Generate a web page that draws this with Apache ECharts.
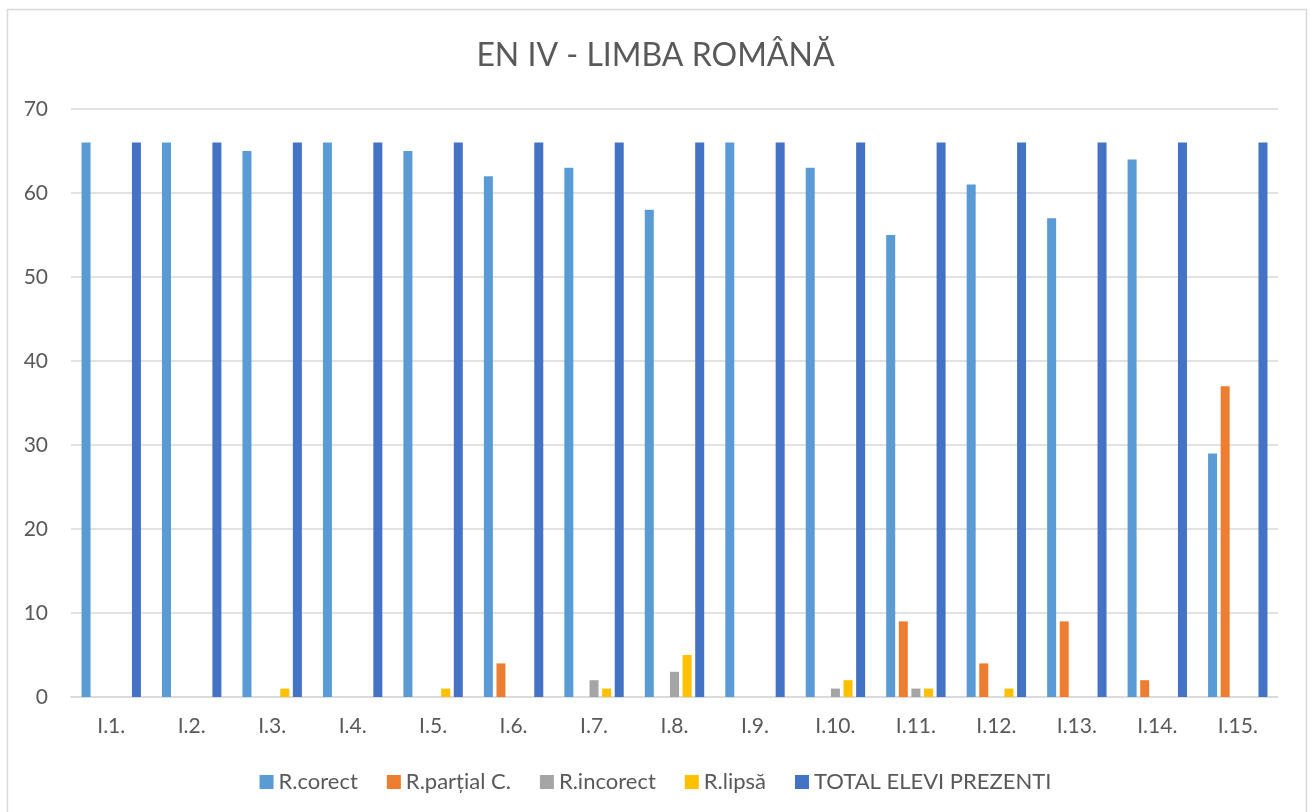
<!DOCTYPE html>
<html>
<head>
<meta charset="utf-8">
<title>EN IV - LIMBA ROMÂNĂ</title>
<script src="https://cdn.jsdelivr.net/npm/echarts@6/dist/echarts.min.js"></script>
<style>
  html, body { margin: 0; padding: 0; background: #fff; }
  #chart { width: 1311px; height: 812px; }
</style>
</head>
<body>
<div id="chart"></div>
<script>
const categories = ['I.1.', 'I.2.', 'I.3.', 'I.4.', 'I.5.', 'I.6.', 'I.7.', 'I.8.', 'I.9.', 'I.10.', 'I.11.', 'I.12.', 'I.13.', 'I.14.', 'I.15.'];
const corect    = [66, 66, 65, 66, 65, 62, 63, 58, 66, 63, 55, 61, 57, 64, 29];
const partial   = [0, 0, 0, 0, 0, 4, 0, 0, 0, 0, 9, 4, 9, 2, 37];
const incorect  = [0, 0, 0, 0, 0, 0, 2, 3, 0, 1, 1, 0, 0, 0, 0];
const lipsa     = [0, 0, 1, 0, 1, 0, 1, 5, 0, 2, 1, 1, 0, 0, 0];
const total     = [66, 66, 66, 66, 66, 66, 66, 66, 66, 66, 66, 66, 66, 66, 66];
const yTicks    = [0, 10, 20, 30, 40, 50, 60, 70];

const FONT = 'Lato, "Open Sans", sans-serif';
const TEXT = '#595959';

const seriesDefs = [
  { name: 'R.corect', data: corect, color: '#5B9BD5' },
  { name: 'R.parțial C.', data: partial, color: '#ED7D31' },
  { name: 'R.incorect', data: incorect, color: '#A5A5A5' },
  { name: 'R.lipsă', data: lipsa, color: '#FFC000' },
  { name: 'TOTAL ELEVI PREZENTI', data: total, color: '#4472C4' }
];

const chart = echarts.init(document.getElementById('chart'), null, { renderer: 'canvas' });

chart.setOption({
  backgroundColor: '#fff',
  animation: false,
  title: {
    text: 'EN IV - LIMBA ROMÂNĂ',
    left: 'center',
    top: 35,
    textStyle: { fontFamily: FONT, fontSize: 32, fontWeight: 'normal', color: TEXT }
  },
  graphic: [{
    type: 'rect',
    shape: { x: 7.5, y: 9.5, width: 1299, height: 810 },
    style: { fill: 'none', stroke: '#d9d9d9', lineWidth: 1.5 },
    silent: true
  }],
  legend: {
    bottom: 14,
    left: 'center',
    itemWidth: 14,
    itemHeight: 14,
    itemGap: 29,
    icon: 'rect',
    textStyle: { fontFamily: FONT, fontSize: 22, color: TEXT },
    data: seriesDefs.map(s => s.name)
  },
  grid: { left: 71, right: 33, top: 109, bottom: 115, containLabel: false },
  xAxis: {
    type: 'category',
    data: categories,
    axisLine: { lineStyle: { color: '#d9d9d9', width: 1.5 } },
    axisTick: { show: false },
    axisLabel: { fontFamily: FONT, fontSize: 21, color: TEXT, margin: 19 }
  },
  yAxis: {
    type: 'value',
    min: yTicks[0],
    max: yTicks[yTicks.length - 1],
    interval: 10,
    axisLine: { show: false },
    axisTick: { show: false },
    axisLabel: { fontFamily: FONT, fontSize: 21, color: TEXT, margin: 23 },
    splitLine: { lineStyle: { color: '#d9d9d9', width: 1.5 } }
  },
  series: seriesDefs.map(s => ({
    name: s.name,
    type: 'bar',
    data: s.data,
    barWidth: 9,
    barGap: '40%',
    itemStyle: { color: s.color }
  }))
});
</script>
</body>
</html>
